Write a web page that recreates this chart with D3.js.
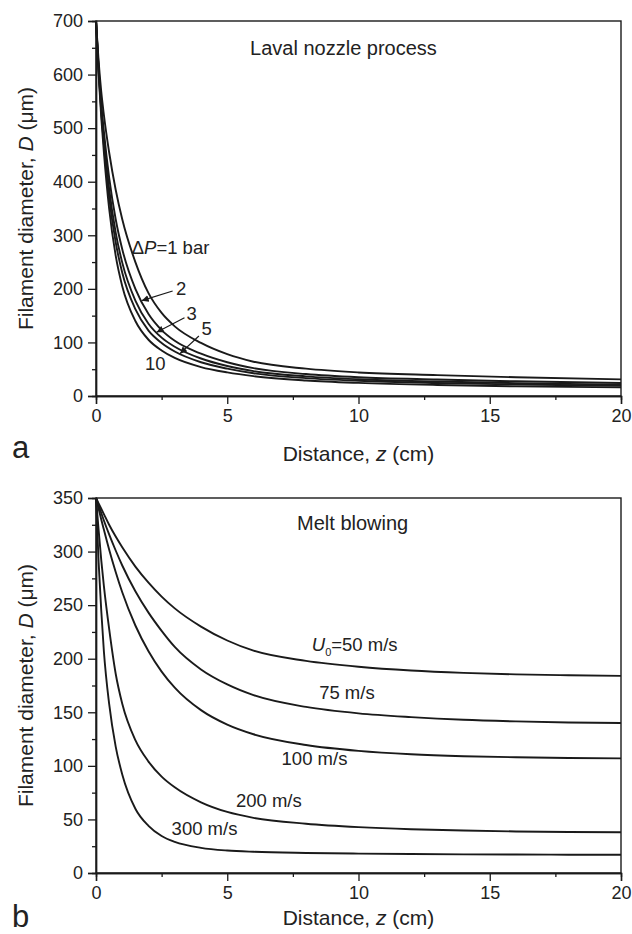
<!DOCTYPE html>
<html>
<head>
<meta charset="utf-8">
<script src="https://cdn.jsdelivr.net/npm/d3@7"></script>
<style>
  body { margin: 0; background: #fff; }
  text { font-family: "Liberation Sans", Arial, sans-serif; fill: #222; }
</style>
</head>
<body>
<svg id="chart" width="632" height="934"></svg>
<script>
// ---- data ----
// panel a: Laval nozzle, pressure difference dP (bar)
var zTop = [0, 0.1, 0.2, 0.3, 0.5, 0.75, 1, 1.5, 2, 2.5, 3, 4, 5, 6, 8, 10, 13, 16, 20];
var dP1  = [700, 625, 568, 525, 455, 385, 330, 250, 192, 155, 130, 99, 78, 64, 51, 44, 39, 35, 31];
var dP2  = [700, 614, 546, 494, 408, 330, 274, 200, 153, 123, 103, 79, 63, 52, 41, 35, 30.7, 27.4, 24.3];
var dP3  = [700, 609, 537, 480, 387, 305, 249, 178, 135, 109, 92, 70, 56, 46.5, 36.7, 31.3, 27, 24, 21.3];
var dP5  = [700, 605, 530, 469, 371, 287, 230, 162, 122, 99, 83, 63, 51, 42.4, 33.4, 28.4, 24.2, 21.4, 19];
var dP10 = [700, 600, 520, 455, 350, 262, 205, 140, 105, 85, 71, 54, 44, 37, 29, 24.5, 20.5, 18, 16];

// panel b: melt blowing, air velocity U0 (m/s)
var zBot = [0, 0.1, 0.2, 0.3, 0.5, 0.75, 1, 1.5, 2, 2.5, 3, 4, 5, 6, 8, 10, 12, 14, 16, 18, 20];
var u50  = [350, 345, 340, 335, 325, 314, 304, 286, 271, 258, 247, 230, 217, 207.5, 198, 192.5, 189, 186.8, 185.4, 184.6, 184];
var u75  = [350, 343, 336, 329, 316, 301, 287, 263, 243, 226, 211, 190, 176, 166, 155, 149, 145.5, 143, 141.5, 140.5, 140];
var u100 = [350, 340, 330, 320.5, 302, 281, 262, 231, 207, 188, 173, 152, 138.5, 129.5, 119.5, 114, 110.8, 109, 108, 107.4, 107];
var u200 = [350, 320, 292, 268, 228, 186, 158, 124, 104, 90, 80, 66, 57, 51.5, 46, 42.8, 40.8, 39.6, 38.8, 38.3, 38];
var u300 = [350, 290, 245, 207, 158, 118, 92, 60, 44, 34.5, 29, 23.5, 21, 19.8, 18.7, 18.1, 17.7, 17.4, 17.2, 17.1, 17];

var xTicks = [0, 5, 10, 15, 20];
var xMinor = [2.5, 7.5, 12.5, 17.5];
var yTicksTop = [0, 100, 200, 300, 400, 500, 600, 700];
var yMinorTop = [50, 150, 250, 350, 450, 550, 650];
var yTicksBot = [0, 50, 100, 150, 200, 250, 300, 350];
var yMinorBot = [25, 75, 125, 175, 225, 275, 325];

// curve labels, anchored in data units (z, D)
var topLabels = [
  { key: "dp", z: 1.36, d: 266 },
  { key: "2",  z: 3.05, d: 189, from: [2.92, 196], to: [1.74, 178] },
  { key: "3",  z: 3.45, d: 142, from: [3.37, 146], to: [2.31, 119] },
  { key: "5",  z: 4.02, d: 114, from: [3.92, 112], to: [3.2, 79] },
  { key: "10", z: 1.87, d: 48 }
];
var botLabels = [
  { key: "u0",  z: 8.22, d: 207 },
  { key: "75",  z: 8.5,  d: 162 },
  { key: "100", z: 7.07, d: 101 },
  { key: "200", z: 5.33, d: 62 },
  { key: "300", z: 2.88, d: 35.5 }
];

var svg = d3.select("#chart");
var ink = "#1a1a1a";

svg.append("defs").append("marker")
  .attr("id", "arrow")
  .attr("viewBox", "0 0 10 10")
  .attr("refX", 10).attr("refY", 5)
  .attr("markerWidth", 7).attr("markerHeight", 7)
  .attr("markerUnits", "userSpaceOnUse")
  .attr("orient", "auto")
  .append("path").attr("d", "M0,0 L10,5 L0,10 z").attr("fill", ink);

function drawPanel(opt) {
  var x = d3.scaleLinear().domain([0, 20]).range([96, 621]);
  var y = d3.scaleLinear().domain([0, opt.yMax]).range([opt.bottom, opt.top]);
  var g = svg.append("g");

  // curves
  var line = d3.line()
    .x(function (d) { return x(d[0]); })
    .y(function (d) { return y(d[1]); })
    .curve(d3.curveMonotoneX);
  opt.series.forEach(function (s) {
    g.append("path")
      .datum(opt.z.map(function (z, i) { return [z, s[i]]; }))
      .attr("d", line)
      .attr("fill", "none")
      .attr("stroke", ink)
      .attr("stroke-width", 1.9);
  });

  // frame
  g.append("rect")
    .attr("x", x(0)).attr("y", y(opt.yMax))
    .attr("width", x(20) - x(0)).attr("height", y(0) - y(opt.yMax))
    .attr("fill", "none").attr("stroke", ink).attr("stroke-width", 1.4);

  // axes
  g.append("g").attr("transform", "translate(0," + opt.bottom + ")")
    .call(d3.axisBottom(x).tickValues(xTicks).tickSize(8).tickPadding(5).tickFormat(d3.format("d")));
  g.append("g").attr("transform", "translate(0," + opt.bottom + ")")
    .call(d3.axisBottom(x).tickValues(xMinor).tickSize(4).tickFormat(""));
  g.append("g").attr("transform", "translate(96,0)")
    .call(d3.axisLeft(y).tickValues(opt.yTicks).tickSize(8).tickPadding(5).tickFormat(d3.format("d")));
  g.append("g").attr("transform", "translate(96,0)")
    .call(d3.axisLeft(y).tickValues(opt.yMinor).tickSize(4).tickFormat(""));
  g.selectAll(".domain").attr("stroke", ink).attr("stroke-width", 1.4);
  g.selectAll(".tick line").attr("stroke", ink).attr("stroke-width", 1.3);
  g.selectAll(".tick text").attr("font-size", 18).attr("fill", "#222");

  // axis titles
  var yt = g.append("text")
    .attr("transform", "translate(33," + ((opt.top + opt.bottom) / 2) + ") rotate(-90)")
    .attr("text-anchor", "middle").attr("font-size", 21);
  yt.append("tspan").text("Filament diameter, ");
  yt.append("tspan").attr("font-style", "italic").text("D");
  yt.append("tspan").text(" (\u03bcm)");

  var xt = g.append("text")
    .attr("x", (x(0) + x(20)) / 2).attr("y", opt.xTitleY)
    .attr("text-anchor", "middle").attr("font-size", 21);
  xt.append("tspan").text("Distance, ");
  xt.append("tspan").attr("font-style", "italic").text("z");
  xt.append("tspan").text(" (cm)");

  g.append("text").attr("x", 12).attr("y", opt.letterY)
    .attr("font-size", 31).text(opt.letter);

  g.append("text").attr("x", x(opt.title[1])).attr("y", y(opt.title[2]))
    .attr("font-size", 20).text(opt.title[0]);

  // labels
  opt.labels.forEach(function (l) {
    var t = g.append("text").attr("x", x(l.z)).attr("y", y(l.d)).attr("font-size", 18.5);
    if (l.key === "dp") {
      t.append("tspan").text("\u0394");
      t.append("tspan").attr("font-style", "italic").text("P");
      t.append("tspan").text("=1 bar");
    } else if (l.key === "u0") {
      t.append("tspan").attr("font-style", "italic").text("U");
      t.append("tspan").attr("font-size", 11).attr("dy", 5).text("0");
      t.append("tspan").attr("dy", -5).text("=50 m/s");
    } else if (opt.letter === "b") {
      t.text(l.key + " m/s");
    } else {
      t.text(l.key);
    }
    if (l.from) {
      g.append("line")
        .attr("x1", x(l.from[0])).attr("y1", y(l.from[1]))
        .attr("x2", x(l.to[0])).attr("y2", y(l.to[1]))
        .attr("stroke", ink).attr("stroke-width", 1.2)
        .attr("marker-end", "url(#arrow)");
    }
  });
}

drawPanel({
  top: 21, bottom: 396, yMax: 700,
  yTicks: yTicksTop, yMinor: yMinorTop,
  z: zTop, series: [dP1, dP2, dP3, dP5, dP10],
  labels: topLabels,
  title: ["Laval nozzle process", 5.87, 636],
  xTitleY: 461, letter: "a", letterY: 458
});

drawPanel({
  top: 498, bottom: 873, yMax: 350,
  yTicks: yTicksBot, yMinor: yMinorBot,
  z: zBot, series: [u50, u75, u100, u200, u300],
  labels: botLabels,
  title: ["Melt blowing", 7.66, 320],
  xTitleY: 925, letter: "b", letterY: 927
});
</script>
</body>
</html>
